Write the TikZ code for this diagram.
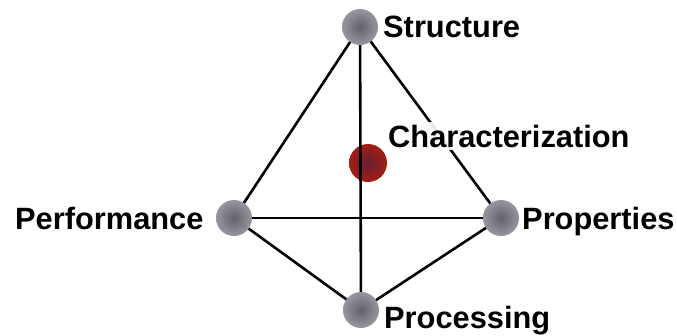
\documentclass[tikz,border=0pt]{standalone}
\usepackage{fontspec}
\setmainfont{Liberation Sans}
\definecolor{ballin}{RGB}{98,98,104}
\definecolor{ballout}{RGB}{150,150,160}
\definecolor{redin}{RGB}{100,30,50}
\definecolor{redout}{RGB}{165,30,20}
\begin{document}
\begin{tikzpicture}[x=1pt,y=-1pt,
  ball/.style={circle,minimum size=36pt,inner sep=0pt,shading=radial,inner color=ballin,outer color=ballout},
  redball/.style={circle,minimum size=38pt,inner sep=0pt,shading=radial,inner color=redin,outer color=redout},
  edge/.style={line width=2.6pt,black},
  lbl/.style={anchor=base west,inner sep=0pt,font=\fontsize{30.8}{36}\selectfont\bfseries}]
\useasboundingbox (0,0) rectangle (677,335);
\coordinate (s) at (360,27);
\coordinate (pf) at (234,218);
\coordinate (pr) at (501,218);
\coordinate (pc) at (361,310);
\node[redball] (C) at (368,163) {};
\draw[edge] (s) -- (pf);
\draw[edge] (s) -- (pr);
\draw[edge] (s) -- (pc);
\draw[edge] (pf) -- (pr);
\draw[edge] (pf) -- (pc);
\draw[edge] (pr) -- (pc);
\node[ball] (S) at (s) {};
\node[ball] (PF) at (pf) {};
\node[ball] (PR) at (pr) {};
\node[ball] (PC) at (pc) {};
\node[lbl] (tS) at (383,37) {Structure};
\node[lbl,fill=white,fill opacity=0.9,text opacity=1,inner ysep=3pt] (tC) at (388,147) {Characterization};
\node[lbl] (tPF) at (15,229) {Performance};
\node[lbl] (tPR) at (522,229) {Properties};
\node[lbl] (tPC) at (384,328) {Processing};
\end{tikzpicture}
\end{document}
